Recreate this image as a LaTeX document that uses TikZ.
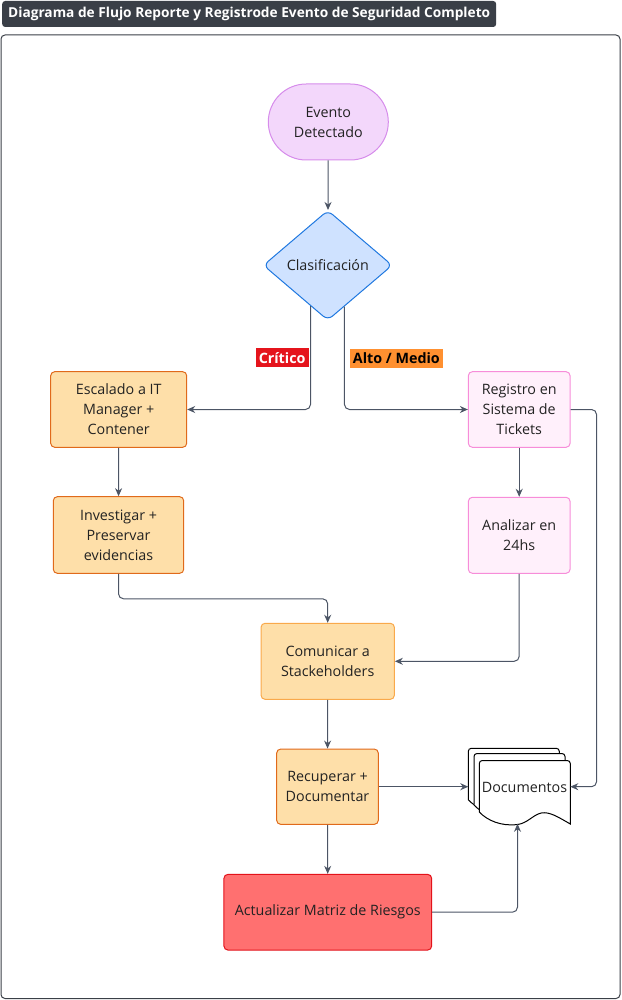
\documentclass[tikz,border=0pt]{standalone}
\usepackage{fontspec}
\setmainfont{Open Sans}
\usetikzlibrary{shapes.geometric,arrows.meta}

\definecolor{ink}{HTML}{222222}
\definecolor{linec}{HTML}{4C5565}
\definecolor{headc}{HTML}{3A3F47}
\definecolor{lilafill}{HTML}{F3D7FB}
\definecolor{lilaline}{HTML}{D68CEB}
\definecolor{bluefill}{HTML}{CFE2FF}
\definecolor{blueline}{HTML}{1F78E0}
\definecolor{ambfill}{HTML}{FEDFA9}
\definecolor{ambdark}{HTML}{E06A1B}
\definecolor{amblight}{HTML}{F9A94B}
\definecolor{rosafill}{HTML}{FFF0FB}
\definecolor{rosaline}{HTML}{F78DD9}
\definecolor{rojofill}{HTML}{FF7070}
\definecolor{rojoline}{HTML}{E3121A}
\definecolor{critc}{HTML}{E5141C}
\definecolor{altoc}{HTML}{FF9030}

% one sheet of the document stack, top left corner at #1,#2
\newcommand{\docsheet}[2]{%
  \begin{scope}[shift={(#1,#2)}]
    \draw[black, line width=1pt, fill=white]
      (0,51.5) {[rounded corners=3pt] -- (0,0) -- (91,0) -- (91,10)} -- (91,63.5)
      .. controls (78,56) and (70,51) .. (62,52.5)
      .. controls (54,54) and (48,63) .. (38,64)
      .. controls (22,66) and (8,60) .. (0,51.5) -- cycle;
  \end{scope}}

\begin{document}
\begin{tikzpicture}[x=1pt, y=-1pt,
    base/.style={line width=1pt, rounded corners=4pt, align=center, inner sep=0pt,
      text=ink, font=\fontsize{14.3}{20}\selectfont},
    terminal/.style={base, draw=lilaline, fill=lilafill, rounded corners=37.9pt,
      minimum width=120pt, minimum height=76pt},
    decision/.style={base, diamond, aspect=1.17, draw=blueline, fill=bluefill,
      rounded corners=6pt, minimum width=129pt, minimum height=110pt},
    ambbox/.style={base, draw=ambdark, fill=ambfill},
    rosabox/.style={base, draw=rosaline, fill=rosafill},
    flow/.style={draw=linec, line width=1pt, rounded corners=5pt,
      -{Stealth[length=8pt, width=7pt]}},
    tag/.style={sharp corners, inner xsep=3pt, inner ysep=0pt, minimum height=19pt,
      font=\fontsize{14.3}{15}\selectfont\bfseries}
  ]
  \useasboundingbox (0,0) rectangle (621,1000);

  % title and frame
  \node[anchor=west, fill=headc, text=white, rounded corners=3pt, inner xsep=6pt,
    minimum height=26pt, font=\fontsize{13.7}{14}\selectfont\bfseries]
    (title) at (2,14) {Diagrama de Flujo Reporte y Registrode Evento de Seguridad Completo};
  \draw[headc, line width=1pt, rounded corners=4pt] (1,35) rectangle (620,998.5);

  % nodes
  \node[terminal] (evento) at (328.3,122) {Evento\\Detectado};
  \node[decision] (clasif) at (327.8,265.3) {Clasificación};
  \node[ambbox, minimum width=136pt, minimum height=75.6pt] (escal) at (118.7,409.5)
    {Escalado a IT\\Manager +\\Contener};
  \node[ambbox, minimum width=130.4pt, minimum height=76.6pt] (invest) at (118.5,535)
    {Investigar +\\Preservar\\evidencias};
  \node[rosabox, minimum width=101.7pt, minimum height=75.6pt] (regis) at (519.2,409.5)
    {Registro en\\Sistema de\\Tickets};
  \node[rosabox, minimum width=101.7pt, minimum height=76pt] (analiz) at (519.2,535.3)
    {Analizar en\\24hs};
  \node[ambbox, draw=amblight, minimum width=133.3pt, minimum height=76pt] (comun)
    at (327.7,661.3) {Comunicar a\\Stackeholders};
  \node[ambbox, minimum width=101.6pt, minimum height=75.3pt] (recup) at (327.5,786.7)
    {Recuperar +\\Documentar};
  \node[base, draw=rojoline, fill=rojofill, minimum width=207.7pt, minimum height=75.7pt]
    (actual) at (327.8,912.2) {Actualizar Matriz de Riesgos};

  % document stack
  \docsheet{468.3}{748.3}
  \docsheet{474}{753.5}
  \docsheet{479.3}{760.5}
  \node[base, rounded corners=0pt] (docs) at (524.5,787) {Documentos};
  \coordinate (docsL) at (468.3,786.7);
  \coordinate (docsR) at (570.3,786.7);
  \coordinate (docsB) at (517.5,823.8);

  % connectors
  \draw[flow] (evento) -- (clasif);
  \draw[flow] (clasif.247) |- (escal.east)
    node[pos=0.25, left=1.5pt, tag, fill=critc, text=white] {Crítico};
  \draw[flow] (clasif.292) |- (regis.west)
    node[pos=0.25, right=5pt, tag, fill=altoc, text=black] {Alto / Medio};
  \draw[flow] (escal) -- (invest);
  \draw[flow] (invest.south) -- ++(0,25) -| (comun.north);
  \draw[flow] (regis) -- (analiz);
  \draw[flow] (analiz.south) |- (comun.east);
  \draw[flow] (regis.east) -- ++(26,0) |- (docsR);
  \draw[flow] (comun) -- (recup);
  \draw[flow] (recup.east) -- (docsL);
  \draw[flow] (recup) -- (actual);
  \draw[flow] (actual.east) -| (docsB);
\end{tikzpicture}
\end{document}
